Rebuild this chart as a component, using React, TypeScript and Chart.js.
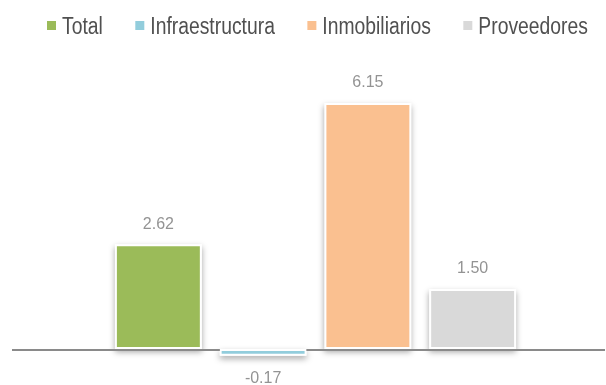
import React, { useEffect, useRef } from "react";
import { Chart, registerables } from "chart.js";

Chart.register(...registerables);

const seriesNames = ["Total", "Infraestructura", "Inmobiliarios", "Proveedores"];
const seriesValues = [2.62, -0.17, 6.15, 1.5];
const seriesColors = ["#9BBB59", "#92CDDC", "#FAC090", "#D9D9D9"];
const categoryLabels = [""];

const FONT = "'Liberation Sans', 'Helvetica Neue', Helvetica, Arial, sans-serif";

// bar shadows + zero line + value labels
const barDecorPlugin = {
  id: "barDecor",
  beforeDatasetsDraw(chart: any) {
    const ctx = chart.ctx;
    chart.data.datasets.forEach((_: any, i: number) => {
      const meta = chart.getDatasetMeta(i);
      meta.data.forEach((bar: any) => {
        const p = bar.getProps(["x", "y", "base", "width"], true);
        const top = Math.min(p.y, p.base);
        const h = Math.abs(p.base - p.y);
        ctx.save();
        ctx.shadowColor = "rgba(0,0,0,0.35)";
        ctx.shadowBlur = 6;
        ctx.shadowOffsetY = 3;
        ctx.fillStyle = "#ffffff";
        ctx.fillRect(p.x - p.width / 2, top, p.width, h);
        ctx.restore();
      });
    });
    const y0 = chart.scales.y.getPixelForValue(0);
    ctx.save();
    ctx.strokeStyle = "#8a8a8a";
    ctx.lineWidth = 2;
    ctx.beginPath();
    ctx.moveTo(12, y0 + 1);
    ctx.lineTo(chart.width - 1, y0 + 1);
    ctx.stroke();
    ctx.restore();
  },
  afterDatasetsDraw(chart: any) {
    const ctx = chart.ctx;
    ctx.save();
    ctx.font = `16px ${FONT}`;
    ctx.fillStyle = "#939393";
    ctx.textAlign = "center";
    chart.data.datasets.forEach((ds: any, i: number) => {
      const meta = chart.getDatasetMeta(i);
      meta.data.forEach((bar: any, j: number) => {
        const v = ds.data[j];
        const p = bar.getProps(["x", "y", "base"], true);
        if (v >= 0) {
          ctx.textBaseline = "bottom";
          ctx.fillText(v.toFixed(2), p.x, p.y - 12);
        } else {
          ctx.textBaseline = "top";
          ctx.fillText(v.toFixed(2), p.x, p.y + 15);
        }
      });
    });
    ctx.restore();
  },
};

// condensed legend (the reference uses a narrow face)
const legendPlugin = {
  id: "narrowLegend",
  afterDraw(chart: any) {
    const ctx = chart.ctx;
    const sx = 0.84;
    const box = 9;
    const boxGap = 6;
    const itemGap = 32.5;
    let x = 47;
    ctx.save();
    ctx.font = `23px ${FONT}`;
    ctx.textBaseline = "alphabetic";
    ctx.textAlign = "left";
    chart.data.datasets.forEach((ds: any) => {
      ctx.fillStyle = ds.backgroundColor;
      ctx.fillRect(x, 21, box, box);
      const tx = x + box + boxGap;
      ctx.save();
      ctx.translate(tx, 34);
      ctx.scale(sx, 1);
      ctx.fillStyle = "#505050";
      ctx.fillText(ds.label, 0, 0);
      ctx.restore();
      const w = ctx.measureText(ds.label).width * sx;
      x = tx + w + itemGap;
    });
    ctx.restore();
  },
};

export default function App() {
  const ref = useRef<HTMLCanvasElement>(null);
  useEffect(() => {
    if (!ref.current) return;
    const chart = new Chart(ref.current, {
      type: "bar",
      data: {
        labels: categoryLabels,
        datasets: seriesNames.map((name, i) => ({
          label: name,
          data: [seriesValues[i]],
          backgroundColor: seriesColors[i],
          borderColor: "#ffffff",
          borderWidth: 2,
          borderSkipped: false,
          categoryPercentage: 0.7212,
          barPercentage: 0.83,
        })),
      },
      options: {
        animation: false,
        responsive: true,
        maintainAspectRatio: false,
        layout: { padding: { left: 20, right: 0, top: 47, bottom: 0 } },
        plugins: {
          legend: { display: false },
          tooltip: { enabled: false },
        },
        scales: {
          x: { display: false, offset: true },
          y: {
            min: -0.9,
            max: 7.55,
            display: true,
            ticks: { display: false },
            grid: { display: false },
            border: { display: false },
            afterFit: (s: any) => {
              s.width = 5;
            },
          },
        },
      },
      plugins: [barDecorPlugin, legendPlugin],
    });
    return () => chart.destroy();
  }, []);
  return (
    <div style={{ position: "absolute", left: 0, top: 0, width: 606, height: 385 }}>
      <canvas ref={ref} />
    </div>
  );
}
